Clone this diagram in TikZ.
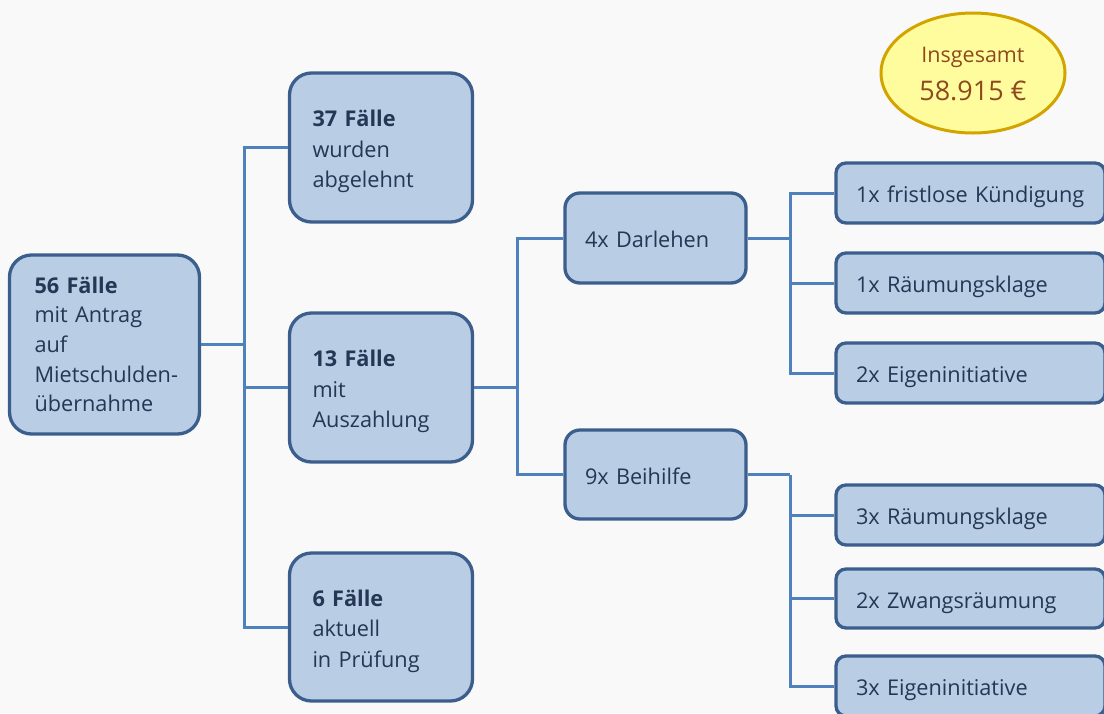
\documentclass[tikz,border=0pt]{standalone}
\usepackage{fontspec}
\setmainfont{Open Sans}
\usetikzlibrary{shapes.geometric}
\definecolor{bg}{HTML}{F9F9FA}
\definecolor{boxfill}{HTML}{B9CDE5}
\definecolor{boxline}{HTML}{3B5E8C}
\definecolor{conn}{HTML}{4F81BD}
\definecolor{txt}{HTML}{253754}
\definecolor{ellfill}{HTML}{FFFC9E}
\definecolor{ellline}{HTML}{D2A400}
\definecolor{elltxt}{HTML}{8E4A1E}
\tikzset{
  box/.style={draw=boxline, fill=boxfill, line width=3.3pt, text=txt, align=left,
    inner xsep=20pt, inner ysep=0pt, font=\fontsize{21.7}{30.5}\selectfont, anchor=center},
  bigbox/.style={box, rounded corners=22pt, text height=24pt, text depth=66pt},
  midbox/.style={box, rounded corners=15pt, text width=141pt, minimum height=90pt,
    text height=24pt, text depth=5pt},
  smallbox/.style={box, rounded corners=10pt, text width=229pt, minimum height=60pt,
    text height=24pt, text depth=5pt},
  conline/.style={draw=conn, line width=3pt}
}
\begin{document}
\begin{tikzpicture}[x=1pt,y=-1pt]
\fill[bg] (0,0) rectangle (1104,713);
\useasboundingbox (0,0) rectangle (1104,713);
\clip (0,0) rectangle (1104,713);

% junctions
\coordinate (j1) at (244,344.5);
\coordinate (j2) at (517,387.5);
\coordinate (j3) at (790,238);
\coordinate (j4) at (790,474.5);

\node[bigbox, text width=140pt, minimum height=179pt, inner xsep=25pt,
  font=\fontsize{21.7}{29.6}\selectfont, text depth=126.4pt] (root) at (104.5,344.5)
  {\textbf{56 Fälle}\\mit Antrag\\auf\\\mbox{Mietschulden-}\\übernahme};
\node[bigbox, text width=137pt, minimum height=149pt, inner xsep=23pt] (a37) at (381,147.5)
  {\textbf{37 Fälle}\\wurden\\abgelehnt};
\node[bigbox, text width=137pt, minimum height=149pt, inner xsep=23pt] (a13) at (381,387.5)
  {\textbf{13 Fälle}\\mit\\Auszahlung};
\node[bigbox, text width=137pt, minimum height=148pt, inner xsep=23pt] (a6) at (381,627)
  {\textbf{6 Fälle}\\aktuell\\in Prüfung};

\node[midbox] (dar) at (655.5,238) {4x Darlehen};
\node[midbox, minimum height=89pt] (bei) at (655.5,474.5) {9x Beihilfe};

\node[smallbox] (r1) at (970.5,193) {1x fristlose Kündigung};
\node[smallbox] (r2) at (970.5,283) {1x Räumungsklage};
\node[smallbox] (r3) at (970.5,373) {2x Eigeninitiative};
\node[smallbox] (r4) at (970.5,515) {3x Räumungsklage};
\node[smallbox, minimum height=59pt] (r5) at (970.5,598.5) {2x Zwangsräumung};
\node[smallbox] (r6) at (970.5,686) {3x Eigeninitiative};

\node[ellipse, draw=ellline, fill=ellfill, line width=3pt, minimum width=184pt,
  minimum height=120pt, text=elltxt, align=center, inner sep=0pt,
  text height=58.7pt, text depth=4.7pt] (sum) at (973,73)
  {\fontsize{21.5}{26}\selectfont Insgesamt\\[12pt]\fontsize{27}{32}\selectfont 58.915 €};

% connectors
\draw[conline] (root.east) -- (j1);
\draw[conline] (a37.west) -| (j1);
\draw[conline] (a13.west) -| (j1);
\draw[conline] (a6.west) -| (j1);
\draw[conline] (a13.east) -- (j2);
\draw[conline] (dar.west) -| (j2);
\draw[conline] (bei.west) -| (j2);
\draw[conline] (dar.east) -- (j3);
\draw[conline] (r1.west) -| (j3);
\draw[conline] (r2.west) -| (j3);
\draw[conline] (r3.west) -| (j3);
\draw[conline] (bei.east) -- (j4);
\draw[conline] (r4.west) -| (j4);
\draw[conline] (r5.west) -| (j4);
\draw[conline] (r6.west) -| (j4);
\end{tikzpicture}
\end{document}
